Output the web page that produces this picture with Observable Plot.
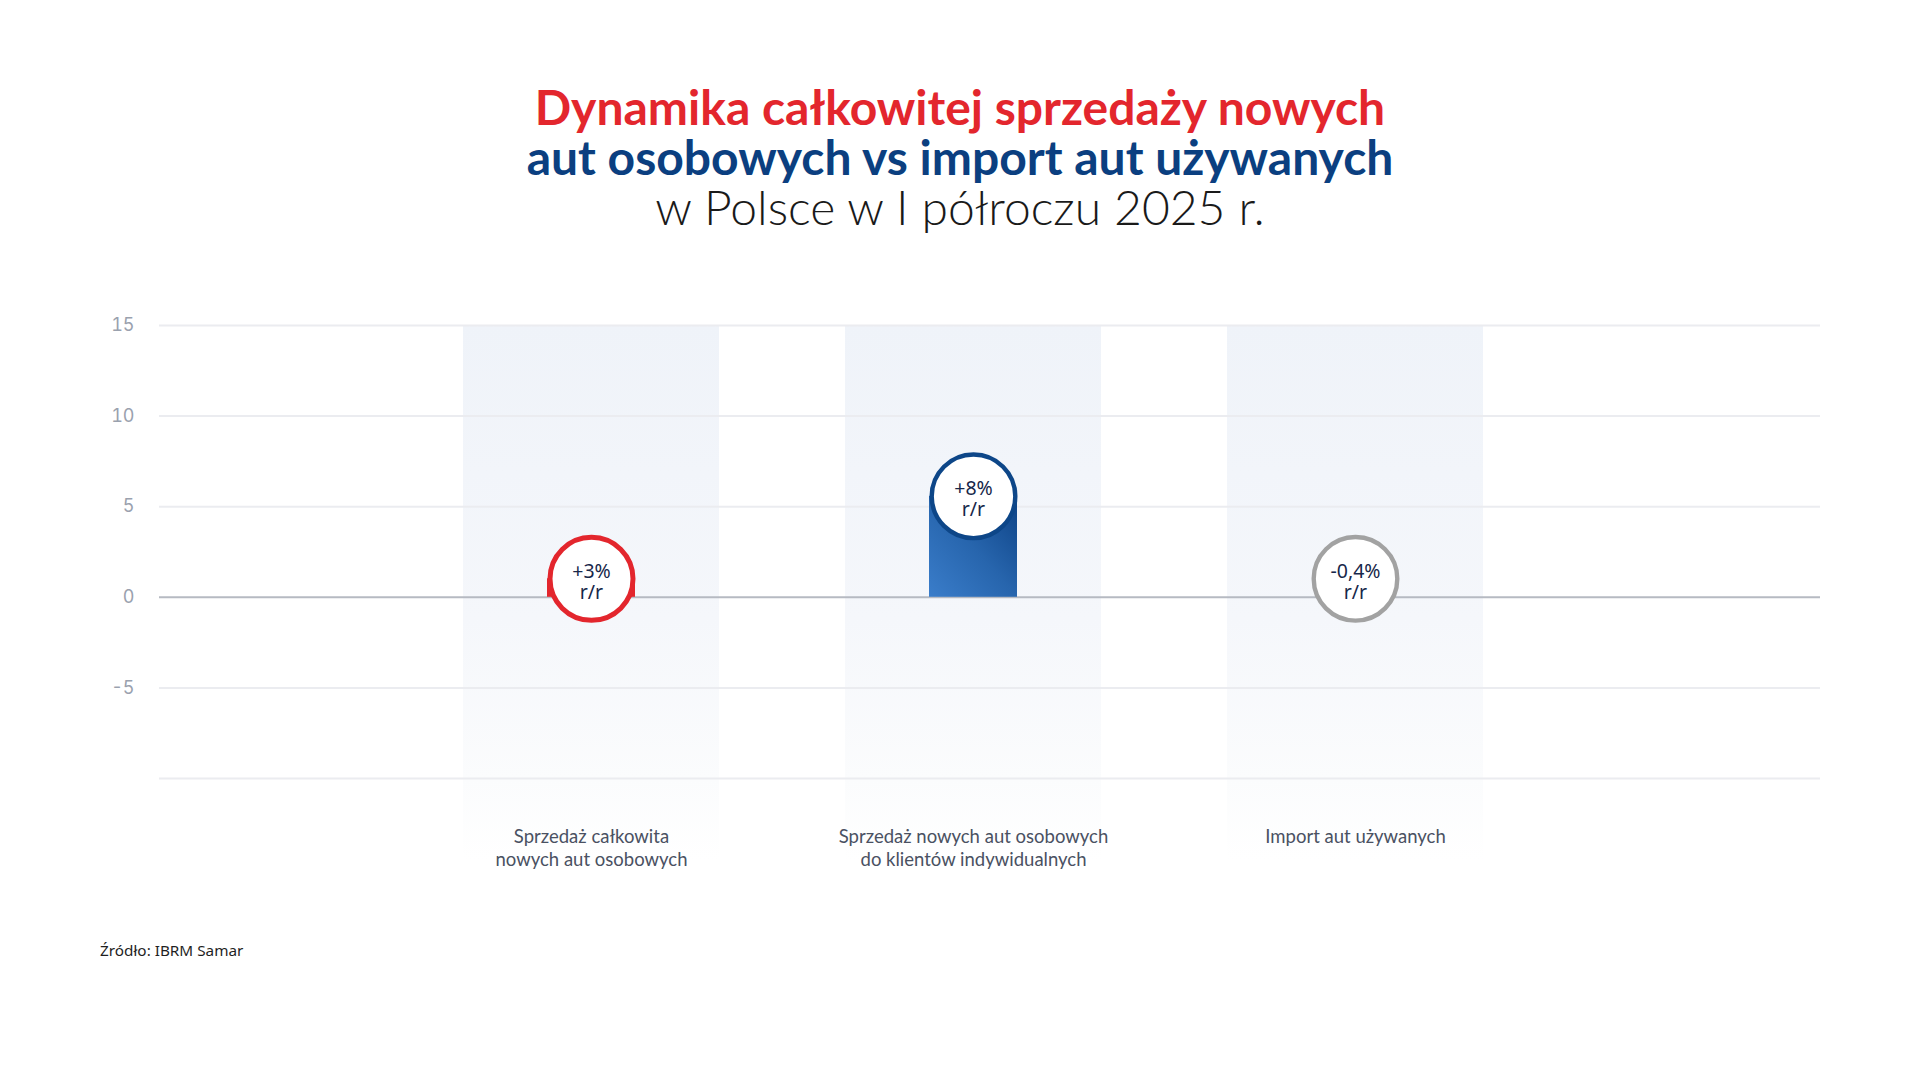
<!DOCTYPE html>
<html>
<head>
<meta charset="utf-8">
<script src="https://cdn.jsdelivr.net/npm/d3@7"></script>
<script src="https://cdn.jsdelivr.net/npm/@observablehq/plot@0.6"></script>
<style>
  html, body { margin: 0; padding: 0; background: #ffffff; }
  #page { position: relative; width: 1920px; height: 1080px; overflow: hidden; background: #fff; }
  #title { position: absolute; top: 82px; left: 0; width: 1920px; text-align: center;
           font-family: Lato, "Open Sans", sans-serif; font-size: 48px; line-height: 50px; }
  #title .l1 { color: #e3262d; font-weight: 700; }
  #title .l2 { color: #0b3f80; font-weight: 700; }
  #title .l3 { color: #1a1a1a; font-weight: 300; }
  #chart { position: absolute; top: 280px; left: 0; }
  #source { position: absolute; top: 940px; left: 100px; font-family: "Noto Sans", sans-serif;
            font-size: 15.3px; line-height: 20px; color: #1f1f1f; }
</style>
</head>
<body>
<div id="page">
  <div id="title">
    <div class="l1">Dynamika całkowitej sprzedaży nowych</div>
    <div class="l2">aut osobowych vs import aut używanych</div>
    <div class="l3">w Polsce w I półroczu 2025 r.</div>
  </div>
  <div id="chart"></div>
  <div id="source">Źródło: IBRM Samar</div>
</div>
<script>
// ---- data ----
const categories = [
  "Sprzedaż całkowita\nnowych aut osobowych",
  "Sprzedaż nowych aut osobowych\ndo klientów indywidualnych",
  "Import aut używanych"
];
const values = [3, 8, -0.4];
const yTicks = [-5, 0, 5, 10, 15];
const yGrid = [-10, -5, 5, 10, 15];
const seriesColors = ["#e3262d", "#0d4688", "#a2a2a2"];

// ---- layout constants ----
const W = 1920, H = 620, MT = 45, MB = 122, ML = 159, MR = 100;
const yMin = -10, yMax = 15;
const pxPerUnit = (H - MT - MB) / (yMax - yMin);
const R_OUT = 44;          // outer radius of the badge in px
const MIN_LIFT = 18.5;     // min lift of the badge centre above zero in px

const data = categories.map((c, i) => {
  const v = values[i];
  const cy = Math.max(Math.max(v, 0) - R_OUT / pxPerUnit, MIN_LIFT / pxPerUnit);
  const label = (v > 0 ? "+" : "") + String(v).replace(".", ",") + "%\nr/r";
  return {cat: c, value: v, cy, label, color: seriesColors[i], idx: i};
});

// defs for gradients
function defs() {
  const ns = "http://www.w3.org/2000/svg";
  const d = document.createElementNS(ns, "defs");
  d.innerHTML = `
    <linearGradient id="bandGrad" x1="0" y1="0" x2="0" y2="1">
      <stop offset="0" stop-color="#eff3f9"/>
      <stop offset="0.55" stop-color="#f5f7fb"/>
      <stop offset="0.85" stop-color="#fbfcfd"/>
      <stop offset="1" stop-color="#ffffff"/>
    </linearGradient>
    <linearGradient id="blueGrad" x1="0" y1="1" x2="1" y2="0">
      <stop offset="0" stop-color="#3a7dca"/>
      <stop offset="0.5" stop-color="#2765ad"/>
      <stop offset="1" stop-color="#0d4285"/>
    </linearGradient>`;
  return d;
}

const bandHalfInset = (256 - 88) / 2;

const plot = Plot.plot({
  width: W, height: H,
  marginTop: MT, marginBottom: MB, marginLeft: ML, marginRight: MR,
  x: {type: "band", domain: categories, range: [462, 1483], paddingInner: 0.331, paddingOuter: 0},
  y: {domain: [yMin, yMax]},
  style: {fontFamily: "Lato, sans-serif", background: "transparent"},
  marks: [
    defs,
    Plot.barY(categories, {x: d => d, y1: yMax, y2: yMin, fill: "url(#bandGrad)", insetBottom: -82}),
    Plot.ruleY(yGrid, {stroke: "#ebecf0", strokeWidth: 2}),
    Plot.ruleY([0], {stroke: "#b6bac2", strokeWidth: 2}),
    Plot.axisY({ticks: yTicks, tickSize: 0, tickPadding: 25, fontSize: 18, color: "#9aa1ae",
                tickFormat: d => String(d), fontFamily: "Inter, sans-serif", label: null}),
    Plot.axisX({tickSize: 0, tickPadding: 48, fontSize: 18.5, lineHeight: 1.25, color: "#4a5162",
                fontFamily: "Lato, sans-serif", label: null}),
    Plot.barY(data.filter(d => d.value > 0 && d.idx === 0), {x: "cat", y1: 0, y2: "cy", fill: "#e3262d",
                insetLeft: bandHalfInset, insetRight: bandHalfInset}),
    Plot.barY(data.filter(d => d.value > 0 && d.idx === 1), {x: "cat", y1: 0, y2: "cy", fill: "url(#blueGrad)",
                insetLeft: bandHalfInset, insetRight: bandHalfInset}),
    Plot.dot(data.filter(d => d.idx === 0), {x: "cat", y: "cy", r: 41.5, fill: "white", stroke: "color", strokeWidth: 5}),
    Plot.dot(data.filter(d => d.idx !== 0), {x: "cat", y: "cy", r: 41.8, fill: "white", stroke: "color", strokeWidth: 4.4}),
    Plot.text(data, {x: "cat", y: "cy", text: "label", fontSize: 19.5, lineHeight: 1.08, dy: 2.5,
                fill: "#17274a", fontFamily: "Noto Sans, sans-serif"})
  ]
});
document.getElementById("chart").appendChild(plot);
</script>
</body>
</html>
